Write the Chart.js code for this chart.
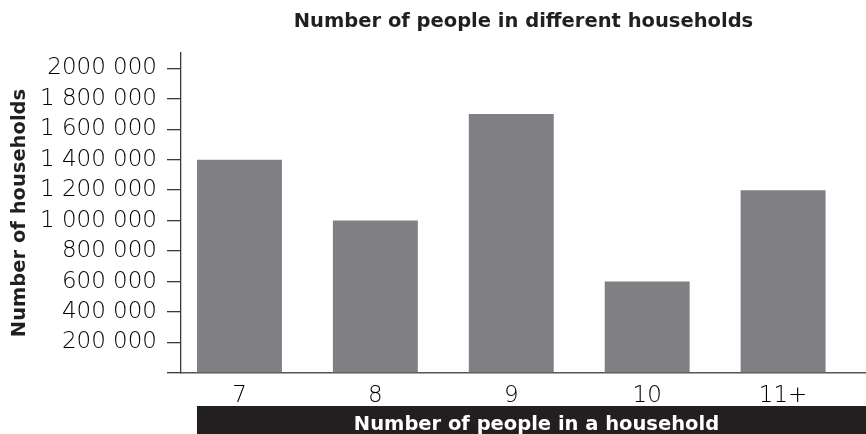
<!DOCTYPE html>
<html>
<head>
<meta charset="utf-8">
<script src="https://cdn.jsdelivr.net/npm/chart.js@4/dist/chart.umd.min.js"></script>
<style>
  html, body { margin: 0; padding: 0; background: #ffffff; }
  #wrap { width: 866px; height: 434px; }
</style>
</head>
<body>
<div id="wrap"><canvas id="chart" width="866" height="434"></canvas></div>
<script>
// Household size categories and the number of households in each
const categories = ['7', '8', '9', '10', '11+'];
const households = [1400000, 1000000, 1700000, 600000, 1200000];

// Labelled steps on the vertical axis
const yTickValues = [200000, 400000, 600000, 800000, 1000000, 1200000, 1400000, 1600000, 1800000, 2000000];
const yTickLabels = ['200 000', '400 000', '600 000', '800 000', '1 000 000', '1 200 000', '1 400 000', '1 600 000', '1 800 000', '2000 000'];

const xAxisTitle = 'Number of people in a household';

const INK = '#231f20';
const BAR = '#808084';
const AXIS = '#3a3a3a';
const BOLD = { family: 'DejaVu Sans', size: 19.5, weight: 'bold', lineHeight: 1.2 };
const LIGHT = { family: 'DejaVu Sans', size: 23, weight: '200' };

// Dark band under the bars with the horizontal axis title in white
const titleBand = {
  id: 'titleBand',
  beforeDraw(chart) {
    const xs = chart.scales.x;
    const meta = chart.getDatasetMeta(0);
    if (!meta.data.length) return;
    const first = meta.data[0];
    const left = first.x - first.width / 2;
    const h = 28;
    const ctx = chart.ctx;
    ctx.save();
    ctx.fillStyle = INK;
    ctx.fillRect(left, xs.bottom - h, chart.width - left, h);
    ctx.fillStyle = '#ffffff';
    ctx.font = `bold ${BOLD.size}px "${BOLD.family}"`;
    ctx.textAlign = 'center';
    ctx.textBaseline = 'alphabetic';
    ctx.fillText(xAxisTitle, (left + chart.width) / 2 + 5, xs.bottom - 4);
    ctx.restore();
  }
};

new Chart(document.getElementById('chart'), {
  type: 'bar',
  data: {
    datasets: [{
      data: households.map((v, i) => ({ x: i, y: v })),
      backgroundColor: BAR,
      borderWidth: 0,
      barPercentage: 1,
      categoryPercentage: 0.625
    }]
  },
  options: {
    responsive: false,
    animation: false,
    layout: { padding: 0 },
    plugins: {
      legend: { display: false },
      tooltip: { enabled: false },
      title: {
        display: true,
        fullSize: false,
        text: 'Number of people in different households',
        color: INK,
        font: BOLD,
        padding: { top: 10.3, bottom: 19.3 }
      }
    },
    scales: {
      x: {
        type: 'linear',
        offset: false,
        min: -0.43,
        max: 4.61,
        grid: { display: false, offset: false },
        border: { display: true, color: '#555555', width: 1.5 },
        afterBuildTicks(scale) {
          scale.ticks = categories.map((_, i) => ({ value: i }));
        },
        afterFit(scale) { scale.height = 61; },
        ticks: {
          padding: 1,
          color: '#000000',
          font: LIGHT,
          maxRotation: 0,
          autoSkip: false,
          callback: (v) => categories[v] ?? ''
        }
      },
      y: {
        min: 0,
        max: 2100000,
        afterBuildTicks(scale) {
          scale.ticks = [{ value: 0 }].concat(yTickValues.map(v => ({ value: v })));
        },
        afterFit(scale) { scale.width = 181; },
        grid: {
          display: true,
          drawOnChartArea: false,
          drawTicks: true,
          tickLength: 14,
          color: AXIS,
          lineWidth: 1.3
        },
        border: { display: true, color: AXIS, width: 1.3 },
        ticks: {
          padding: 10,
          color: '#000000',
          font: LIGHT,
          autoSkip: false,
          callback: (v) => {
            const i = yTickValues.indexOf(v);
            return i >= 0 ? yTickLabels[i] : '';
          }
        },
        title: {
          display: true,
          text: 'Number of households',
          color: INK,
          font: BOLD,
          padding: { top: 8.3, bottom: 0 }
        }
      }
    }
  },
  plugins: [titleBand]
});
</script>
</body>
</html>
